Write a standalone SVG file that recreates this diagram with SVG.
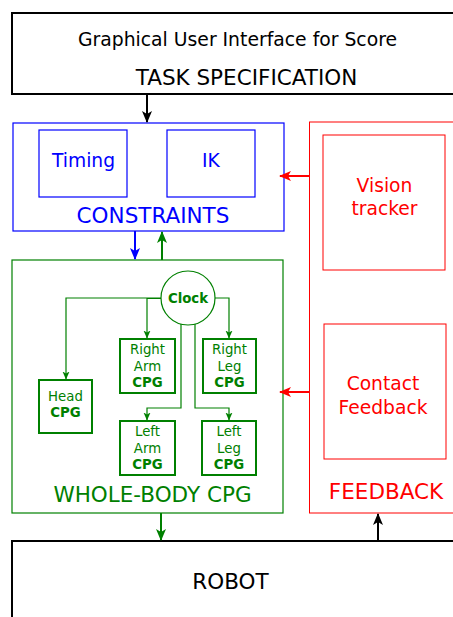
<svg xmlns="http://www.w3.org/2000/svg" width="453" height="617" viewBox="0 0 453 617">
<style>
text{font-family:"DejaVu Sans","Liberation Sans",sans-serif;text-anchor:middle}
.blk{fill:none;stroke:#000;stroke-width:2}
.blu{fill:none;stroke:#0000ff;stroke-width:1.2}
.red{fill:none;stroke:#ff0000;stroke-width:1}
.grn{fill:none;stroke:#008000;stroke-width:1.2}
.gsm{fill:none;stroke:#008000;stroke-width:2}
.big{font-size:21.5px}
.mid{font-size:18.7px}
.sm{font-size:13.3px;fill:#008000}
.b{font-weight:bold}
</style>
<defs>
<marker id="ak" markerWidth="12" markerHeight="12" viewBox="0 0 12 12" refX="11" refY="6" orient="auto" markerUnits="userSpaceOnUse"><path d="M0,1 L12,6 L0,11 L3,6 Z" fill="#000"/></marker>
<marker id="ab" markerWidth="12" markerHeight="12" viewBox="0 0 12 12" refX="11" refY="6" orient="auto" markerUnits="userSpaceOnUse"><path d="M0,1 L12,6 L0,11 L3,6 Z" fill="#0000ff"/></marker>
<marker id="ag" markerWidth="12" markerHeight="12" viewBox="0 0 12 12" refX="11" refY="6" orient="auto" markerUnits="userSpaceOnUse"><path d="M0,1 L12,6 L0,11 L3,6 Z" fill="#008000"/></marker>
<marker id="ar" markerWidth="12" markerHeight="12" viewBox="0 0 12 12" refX="11" refY="6" orient="auto" markerUnits="userSpaceOnUse"><path d="M0,1 L12,6 L0,11 L3,6 Z" fill="#ff0000"/></marker>
<marker id="as" markerWidth="8" markerHeight="8" viewBox="0 0 8 8" refX="7.5" refY="4" orient="auto" markerUnits="userSpaceOnUse"><path d="M0,0.5 L8,4 L0,7.5 L2,4 Z" fill="#008000"/></marker>
</defs>
<rect width="453" height="617" fill="#fff"/>
<g id="task">
<rect class="blk" x="12" y="13" width="450" height="81"/>
<text x="237.5" y="46" font-size="18.8">Graphical User Interface for Score</text>
<text class="big" x="246.5" y="85">TASK SPECIFICATION</text>
</g>
<g id="constraints">
<rect class="blu" x="13" y="123" width="271" height="108"/>
<rect class="blu" x="39" y="130" width="88" height="67"/>
<text class="mid" x="83.5" y="167" fill="#0000ff">Timing</text>
<rect class="blu" x="167" y="130" width="88" height="67"/>
<text class="mid" x="211" y="167" fill="#0000ff">IK</text>
<text class="big" x="153" y="223" fill="#0000ff">CONSTRAINTS</text>
</g>
<g id="feedback">
<rect class="red" x="309.5" y="122" width="160" height="391"/>
<rect class="red" x="323" y="135" width="122" height="135"/>
<text class="mid" x="384.5" y="192" fill="#ff0000">Vision</text>
<text class="mid" x="384.5" y="215" fill="#ff0000">tracker</text>
<rect class="red" x="324" y="324" width="122" height="135"/>
<text class="mid" x="383" y="390" fill="#ff0000">Contact</text>
<text class="mid" x="383" y="414" fill="#ff0000">Feedback</text>
<text class="big" x="386" y="499" fill="#ff0000">FEEDBACK</text>
</g>
<g id="wholebody">
<rect class="grn" x="12" y="260" width="271" height="253"/>
<text class="big" x="152.5" y="502" fill="#008000">WHOLE-BODY CPG</text>
</g>
<g id="clock">
<circle cx="188" cy="298" r="27" fill="none" stroke="#008000" stroke-width="1.2"/>
<text x="188" y="303" font-size="13.3" class="b" fill="#008000">Clock</text>
</g>
<g id="head">
<rect class="gsm" x="39" y="380" width="53" height="53"/>
<text class="sm" x="65.5" y="401">Head</text>
<text class="sm b" x="65.5" y="417">CPG</text>
</g>
<g id="rightarm">
<rect class="gsm" x="120" y="339" width="55" height="54"/>
<text class="sm" x="147.5" y="354">Right</text>
<text class="sm" x="147.5" y="371">Arm</text>
<text class="sm b" x="147.5" y="387">CPG</text>
</g>
<g id="rightleg">
<rect class="gsm" x="203" y="339" width="53" height="54"/>
<text class="sm" x="229.5" y="354">Right</text>
<text class="sm" x="229.5" y="371">Leg</text>
<text class="sm b" x="229.5" y="387">CPG</text>
</g>
<g id="leftarm">
<rect class="gsm" x="120" y="421" width="55" height="54"/>
<text class="sm" x="147.5" y="436">Left</text>
<text class="sm" x="147.5" y="453">Arm</text>
<text class="sm b" x="147.5" y="469">CPG</text>
</g>
<g id="leftleg">
<rect class="gsm" x="202" y="421" width="54" height="54"/>
<text class="sm" x="229" y="436">Left</text>
<text class="sm" x="229" y="453">Leg</text>
<text class="sm b" x="229" y="469">CPG</text>
</g>
<g id="robot">
<rect class="blk" x="12" y="541" width="450" height="100"/>
<text class="big" x="230.5" y="589">ROBOT</text>
</g>
<g id="connectors" fill="none">
<path d="M147,94 V122" stroke="#000" stroke-width="2" marker-end="url(#ak)"/>
<path d="M135,231 V259" stroke="#0000ff" stroke-width="2" marker-end="url(#ab)"/>
<path d="M162,260 V232" stroke="#008000" stroke-width="2" marker-end="url(#ag)"/>
<path d="M309,176 H280" stroke="#ff0000" stroke-width="2" marker-end="url(#ar)"/>
<path d="M309,392 H280" stroke="#ff0000" stroke-width="2" marker-end="url(#ar)"/>
<path d="M161,513 V540" stroke="#008000" stroke-width="2" marker-end="url(#ag)"/>
<path d="M378,542 V514" stroke="#000" stroke-width="2" marker-end="url(#ak)"/>
<g stroke="#008000" stroke-width="1.2">
<path d="M161,298 H66 V379" marker-end="url(#as)"/>
<path d="M161,298.5 H147 V338" marker-end="url(#as)"/>
<path d="M215,298 H229 V338" marker-end="url(#as)"/>
<path d="M181,324 V408 H147 V420" marker-end="url(#as)"/>
<path d="M195,324 V408 H229 V420" marker-end="url(#as)"/>
</g>
</g>
</svg>
